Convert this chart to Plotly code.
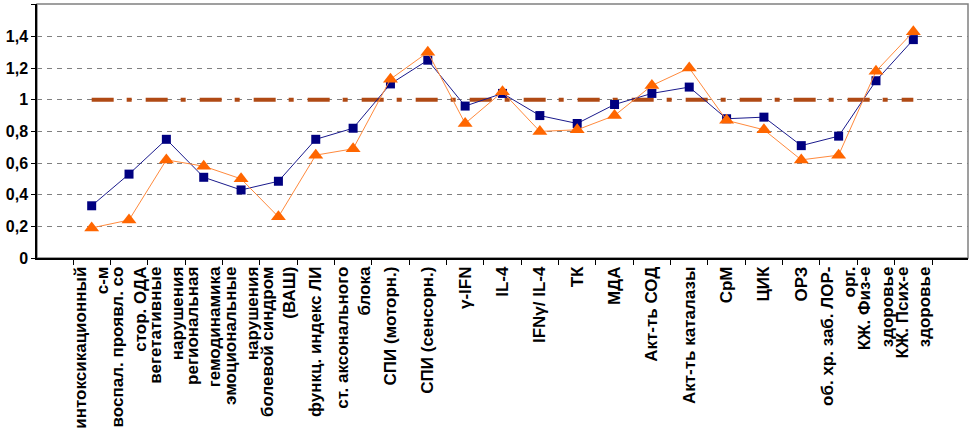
import plotly.graph_objects as go

categories = [
    "интоксикационный<br>с-м",
    "воспал. проявл. со<br>стор. ОДА",
    "вегетативные<br>нарушения",
    "региональная<br>гемодинамика",
    "эмоциональные<br>нарушения",
    "болевой синдром<br>(ВАШ)",
    "функц. индекс ЛИ",
    "ст. аксонального<br>блока",
    "СПИ (моторн.)",
    "СПИ (сенсорн.)",
    "γ-IFN",
    "IL-4",
    "IFNγ/ IL-4",
    "ТК",
    "МДА",
    "Акт-ть СОД",
    "Акт-ть каталазы",
    "СрМ",
    "ЦИК",
    "ОРЗ",
    "об. хр. заб. ЛОР-<br>орг.",
    "КЖ. Физ-е<br>здоровье",
    "КЖ. Псих-е<br>здоровье",
]

series_blue = [0.33, 0.53, 0.75, 0.51, 0.43, 0.485, 0.75, 0.82, 1.10, 1.25,
               0.96, 1.04, 0.90, 0.85, 0.97, 1.04, 1.08, 0.88, 0.89, 0.71,
               0.77, 1.12, 1.38]
series_orange = [0.19, 0.24, 0.62, 0.58, 0.50, 0.26, 0.65, 0.69, 1.13, 1.30,
                 0.85, 1.05, 0.80, 0.81, 0.90, 1.09, 1.20, 0.87, 0.81, 0.62,
                 0.65, 1.18, 1.43]
reference_level = [1.0] * len(categories)

y_ticks = [0, 0.2, 0.4, 0.6, 0.8, 1.0, 1.2, 1.4, 1.6]

FONT = "Arial, Liberation Sans, sans-serif"

fig = go.Figure()

fig.add_trace(go.Scatter(
    x=categories, y=reference_level, mode="lines",
    line=dict(color="#B04A14", width=4, dash="22px,13px,5px,14px"),
    hoverinfo="skip", showlegend=False,
))
fig.add_trace(go.Scatter(
    x=categories, y=series_blue, mode="lines+markers",
    line=dict(color="#1A1A8C", width=1),
    marker=dict(symbol="square", size=9, color="#000080"),
    showlegend=False,
))
fig.add_trace(go.Scatter(
    x=categories, y=series_orange, mode="lines+markers",
    line=dict(color="#FF8A3D", width=1),
    marker=dict(symbol="triangle-up", size=13, color="#FF6600"),
    showlegend=False,
))

fig.update_layout(
    width=970, height=436,
    autosize=False,
    margin=dict(l=37, r=2, t=4, b=178, pad=0, autoexpand=False),
    paper_bgcolor="white", plot_bgcolor="white",
    separators=", ",
    font=dict(family=FONT, size=15, color="black", weight="bold"),
    shapes=[dict(type="rect", xref="paper", yref="paper", x0=0, x1=1, y0=0, y1=1,
                 line=dict(color="#808080", width=1.5), layer="below")],
)

fig.update_xaxes(
    type="category",
    automargin=False,
    tickangle=-90,
    tickson="boundaries",
    ticks="outside", ticklen=5, tickcolor="black",
    showline=True, linecolor="black", linewidth=1.5,
    showgrid=False,
    tickfont=dict(family=FONT, size=17, color="black", weight="bold"),
)

fig.update_yaxes(
    automargin=False,
    range=[0, 1.605],
    tickvals=y_ticks,
    ticks="outside", ticklen=4, tickcolor="black",
    showline=True, linecolor="black", linewidth=1.5,
    showgrid=True, gridcolor="#808080", gridwidth=1, griddash="5px,5px",
    zeroline=False,
    tickfont=dict(family=FONT, size=16, color="black", weight="bold"),
)

# remove the page's default 8px body margin so the figure sits at the window's corner
fig.write_html(
    "out.html",
    config={"displayModeBar": False},
    post_script="document.body.style.margin='0';document.body.style.overflow='hidden';",
)
